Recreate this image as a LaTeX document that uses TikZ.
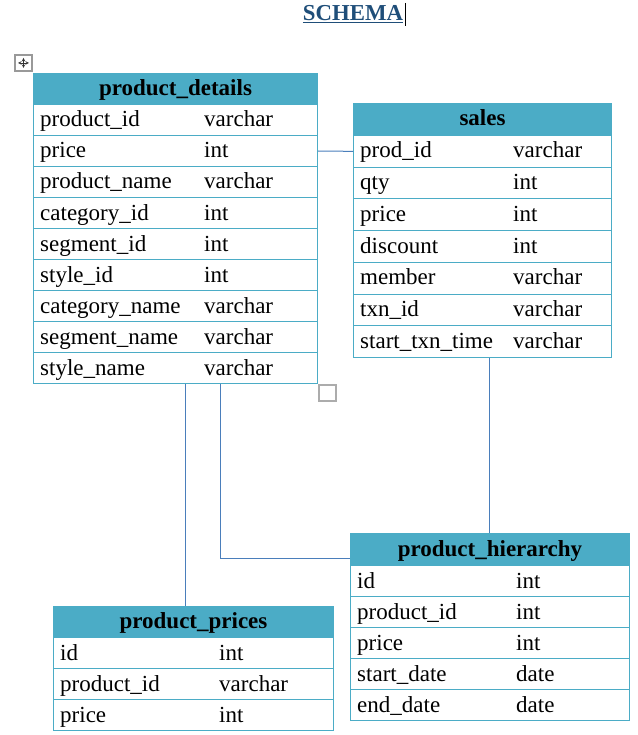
\documentclass[tikz,border=0pt]{standalone}
\usepackage{fontspec}
\setmainfont{Liberation Serif}
\usetikzlibrary{calc}
\definecolor{headblue}{HTML}{4BACC6}
\definecolor{linkblue}{HTML}{4A7EBB}
\definecolor{titleblue}{HTML}{1F4E79}
\tikzset{
  head/.style={draw=headblue, fill=headblue, line width=1pt, anchor=north west, minimum height=31pt, inner sep=0pt, text height=15pt, text depth=2pt, font=\fontsize{23}{26}\selectfont\bfseries},
  row/.style={draw=headblue, line width=1pt, anchor=north west, inner sep=0pt},
  cell/.style={anchor=base west, inner sep=0pt, font=\fontsize{23}{26}\selectfont},
  link/.style={draw=linkblue, line width=1pt}
}

\begin{document}
\begin{tikzpicture}[x=1pt, y=-1pt]
		%%%%% START %%%%%
		\useasboundingbox (0, 0) rectangle (637, 735);
		
		\node[font=\fontsize{22.8}{26}\selectfont\bfseries, text=titleblue, inner sep=0pt, anchor=base] (title) at (353, 21) {\underline{SCHEMA}};
		\draw[line width=1pt] (405, 3) -- (405, 26);
		
		\draw[gray!80, line width=1.2pt] (15, 55) rectangle (32, 71);
		\draw[gray!40!black, line width=0.6pt, <->, >=stealth] (18, 63) -- (29, 63);
		\draw[gray!40!black, line width=0.6pt, <->, >=stealth] (23.5, 58) -- (23.5, 68);
		
		% product_details
		\node[head, minimum width=284pt] (pd) at (33, 73) {product\_details};
		\foreach \fld/\typ [count=\i] in {product\_id/varchar, price/int, product\_name/varchar, category\_id/int, segment\_id/int, style\_id/int, category\_name/varchar, segment\_name/varchar, style\_name/varchar}{
			\node[row, minimum width=284pt, minimum height=31pt] (pd-\i) at (33, {104+31*(\i-1)}) {};
			\node[cell] at ($(pd-\i.north west)+(7, 23)$) {\fld};
			\node[cell] at ($(pd-\i.north west)+(171, 23)$) {\typ};
		}
		\draw[gray!65, line width=1.5pt] (319, 385) rectangle (336, 401);
		
		% sales
		\node[head, minimum width=258pt, minimum height=32pt] (sa) at (353, 103) {sales};
		\foreach \fld/\typ [count=\i] in {prod\_id/varchar, qty/int, price/int, discount/int, member/varchar, txn\_id/varchar, start\_txn\_time/varchar}{
			\node[row, minimum width=258pt, minimum height=31.7pt] (sa-\i) at (353, {135+31.7*(\i-1)}) {};
			\node[cell] at ($(sa-\i.north west)+(7, 23)$) {\fld};
			\node[cell] at ($(sa-\i.north west)+(160, 23)$) {\typ};
		}
		
		% product_hierarchy
		\node[head, minimum width=279pt, minimum height=32pt] (ph) at (350, 533) {product\_hierarchy};
		\foreach \fld/\typ [count=\i] in {id/int, product\_id/int, price/int, start\_date/date, end\_date/date}{
			\node[row, minimum width=279pt, minimum height=31pt] (ph-\i) at (350, {565+31*(\i-1)}) {};
			\node[cell] at ($(ph-\i.north west)+(7, 23)$) {\fld};
			\node[cell] at ($(ph-\i.north west)+(166, 23)$) {\typ};
		}
		
		% product_prices
		\node[head, minimum width=280pt] (pp) at (53, 606) {product\_prices};
		\foreach \fld/\typ [count=\i] in {id/int, product\_id/varchar, price/int}{
			\node[row, minimum width=280pt, minimum height=31pt] (pp-\i) at (53, {637+31*(\i-1)}) {};
			\node[cell] at ($(pp-\i.north west)+(7, 23)$) {\fld};
			\node[cell] at ($(pp-\i.north west)+(166, 23)$) {\typ};
		}
		
		% links
		\coordinate (pdA) at ($(pd-9.south west)+(152, 0)$);
		\coordinate (pdB) at ($(pd-9.south west)+(187, 0)$);
		\coordinate (saA) at ($(sa-7.south west)+(136, 0)$);
		\coordinate (phA) at ($(ph.north west)+(0, 25)$);
		
		\draw[link] (pd-2.east) -- (sa-1.west);
		\draw[link] (saA) -- (saA |- ph.north);
		\draw[link] (pdA) -- (pdA |- pp.north);
		\draw[link] (pdB) |- (phA);
		
		%%%%% END %%%%%
\end{tikzpicture}
\end{document}
